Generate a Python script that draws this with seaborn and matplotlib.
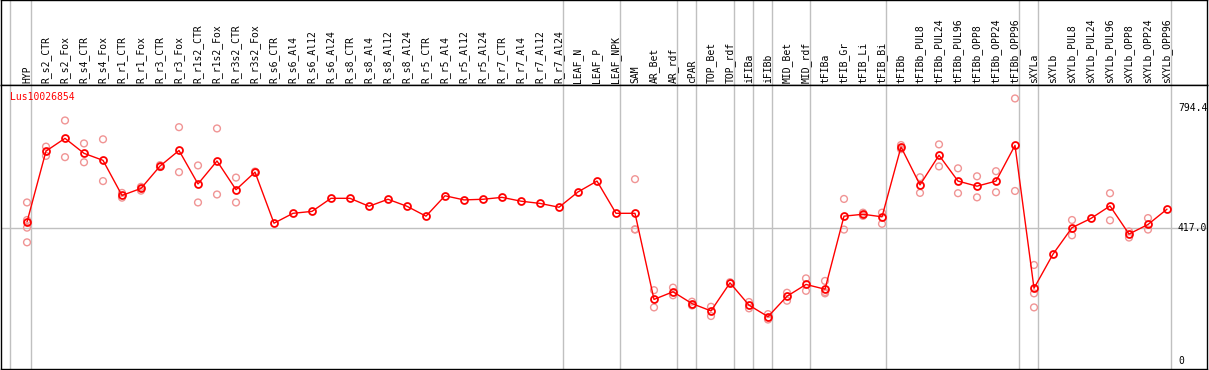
import numpy as np
import pandas as pd
import matplotlib
matplotlib.use("Agg")
import matplotlib.pyplot as plt
import seaborn as sns

# --- data ---------------------------------------------------------------
gene_id = "Lus10026854"

samples = [
    "HYP", "R_s2_CTR", "R_s2_Fox", "R_s4_CTR", "R_s4_Fox", "R_r1_CTR",
    "R_r1_Fox", "R_r3_CTR", "R_r3_Fox", "R_r1s2_CTR", "R_r1s2_Fox",
    "R_r3s2_CTR", "R_r3s2_Fox", "R_s6_CTR", "R_s6_Al4", "R_s6_Al12",
    "R_s6_Al24", "R_s8_CTR", "R_s8_Al4", "R_s8_Al12", "R_s8_Al24",
    "R_r5_CTR", "R_r5_Al4", "R_r5_Al12", "R_r5_Al24", "R_r7_CTR",
    "R_r7_Al4", "R_r7_Al12", "R_r7_Al24", "LEAF_N", "LEAF_P", "LEAF_NPK",
    "SAM", "AR_Bet", "AR_rdf", "cPAR", "TOP_Bet", "TOP_rdf", "iFIBa",
    "iFIBb", "MID_Bet", "MID_rdf", "tFIBa", "tFIB_Gr", "tFIB_Li", "tFIB_Bi",
    "tFIBb", "tFIBb_PUL8", "tFIBb_PUL24", "tFIBb_PUL96", "tFIBb_OPP8",
    "tFIBb_OPP24", "tFIBb_OPP96", "sXYLa", "sXYLb", "sXYLb_PUL8",
    "sXYLb_PUL24", "sXYLb_PUL96", "sXYLb_OPP8", "sXYLb_OPP24", "sXYLb_OPP96",
]

mean_expr = [
    436, 658, 698, 651, 629, 519, 541, 611, 660, 555, 627, 537, 592,
    432, 463, 469, 510, 510, 485, 507, 485, 454, 518, 505, 507, 513,
    501, 494, 482, 530, 564, 463, 463, 193, 217, 180, 157, 245, 175,
    139, 203, 240, 225, 454, 460, 452, 671, 552, 645, 564, 548, 564,
    676, 228, 335, 418, 447, 486, 398, 428, 476,
]

# individual replicates (only where they are visible apart from the mean)
replicates = [
    [497, 442, 418, 372], [672, 643], [754, 639], [682, 623], [695, 564],
    [527, 512], [546, 534], [614, 608], [733, 592], [613, 497], [729, 522],
    [575, 497], [594, 590], [], [], [], [], [], [], [], [], [], [], [], [],
    [], [], [], [], [], [], [], [570, 413, 412], [222, 168], [230, 206],
    [186, 174], [170, 141], [247, 243], [185, 165], [147, 130], [214, 189],
    [259, 220], [251, 216, 212], [508, 412], [465, 455], [465, 430],
    [677, 664], [576, 527], [679, 610], [604, 526], [579, 513], [595, 529],
    [823, 533], [301, 212, 168], [], [442, 394], [], [526, 441], [406, 387],
    [448, 412], [],
]

# last sample of each tissue group (separator lines)
group_ends = [0, 28, 31, 34, 35, 37, 38, 39, 41, 45, 52, 53, 60]
ref_ticks = [0, 417.0, 794.4]

# --- tables ------------------------------------------------------------------
pos = np.arange(len(samples))
df_mean = pd.DataFrame({"pos": pos, "expr": mean_expr})
rep_rows = [(i, v) for i, reps in enumerate(replicates) for v in reps]
df_rep = pd.DataFrame(rep_rows, columns=["pos", "expr"])

# --- figure ------------------------------------------------------------------
sns.set_style("white")
plt.rcParams["font.family"] = ["DejaVu Sans Mono", "DejaVu Sans"]

W, H = 1209, 370
fig = plt.figure(figsize=(W / 100, H / 100), dpi=100)

left_px, right_px, head_px, bottom_px = 1, 1207, 85, 369
ax_head = fig.add_axes([left_px / W, (H - head_px) / H,
                        (right_px - left_px) / W, head_px / H])
ax = fig.add_axes([left_px / W, (H - bottom_px) / H,
                   (right_px - left_px) / W, (bottom_px - head_px) / H])

# pixel -> data mapping (19 px per sample, first sample at x=27)
x0_px, step_px = 27, 19
xlim = ((left_px - x0_px) / step_px, (right_px - x0_px) / step_px)
y0_px, px_per_unit = 361, 0.319
ylim = ((y0_px - bottom_px) / px_per_unit, (y0_px - head_px) / px_per_unit)

for a in (ax, ax_head):
    a.set_xlim(*xlim)
    a.set_xticks([])
    a.set_yticks([])
    for s in a.spines.values():
        s.set_color("black")
        s.set_linewidth(1.0)
    for g in group_ends:
        a.axvline(g + 0.2, color="#c0c0c0", lw=1.0, zorder=0)
    a.axvline(-0.9, color="#c0c0c0", lw=1.0, zorder=0)
ax.set_ylim(*ylim)
ax_head.set_ylim(0, 1)

ax.axhline(417.0, color="#c0c0c0", lw=1.0, zorder=0)

sns.scatterplot(data=df_rep, x="pos", y="expr", ax=ax, marker="o", s=24,
                facecolor="none", edgecolor="#f09494", linewidth=1.0,
                zorder=2, legend=False)
sns.lineplot(data=df_mean, x="pos", y="expr", ax=ax, sort=False,
             color="red", lw=1.0, marker="o", markersize=5,
             markerfacecolor="none", markeredgecolor="red",
             markeredgewidth=1.3, zorder=3)
ax.set_xlabel("")
ax.set_ylabel("")

# sample labels in the header
for i, name in enumerate(samples):
    ax_head.text(i, 0.025, name, rotation=90, ha="center", va="bottom",
                 fontsize=7, color="black")

# right-hand reference values
for t in ref_ticks:
    ax.text(1178, ax.transData.transform((0, t))[1], f"{t:g}" if t == 0 else f"{t:.1f}",
            transform=None, ha="left", va="center", fontsize=7, color="black",
            clip_on=True)

ax.annotate(gene_id, xy=(0, 1), xycoords="axes fraction",
            xytext=(6.5, -8.6), textcoords="offset points",
            ha="left", va="center", fontsize=7, color="red")

fig.savefig("out.png", dpi=100)
